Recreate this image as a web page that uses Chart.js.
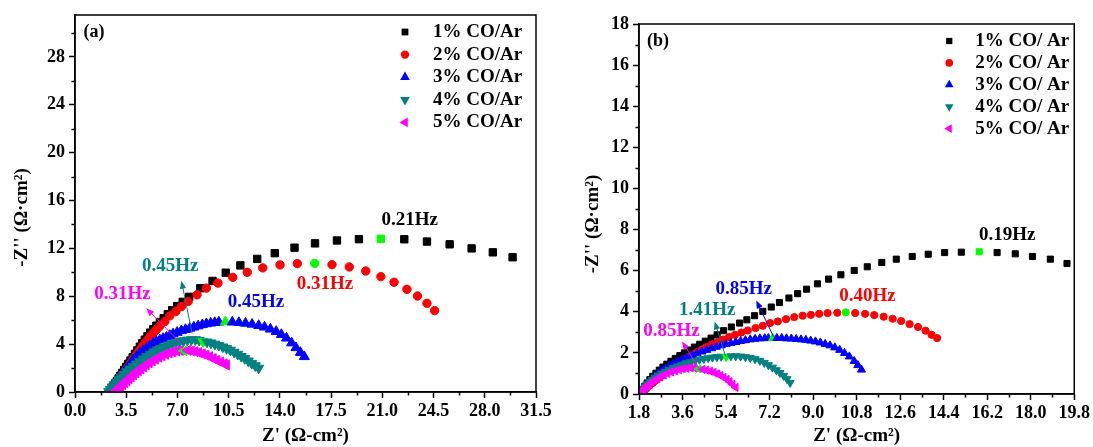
<!DOCTYPE html>
<html>
<head>
<meta charset="utf-8">
<title>Nyquist plots, CO/Ar</title>
<script src="https://cdn.jsdelivr.net/npm/chart.js@4.4.1/dist/chart.umd.min.js"></script>
<style>
  html, body { margin: 0; padding: 0; background: #fff; }
  #wrap { position: relative; width: 1093px; height: 447px; overflow: hidden; background: #fff; }
  .panel { position: absolute; top: 0; height: 447px; }
  #panelA { left: 0; width: 560px; }
  #panelB { left: 546px; width: 547px; }
</style>
</head>
<body>
<div id="wrap">
  <div class="panel" id="panelA"><canvas id="chartA"></canvas></div>
  <div class="panel" id="panelB"><canvas id="chartB"></canvas></div>
</div>
<script>
// Nyquist plots (a) and (b)

// ---- panel (a) ----
const labelsA = ['1% CO/Ar', '2% CO/Ar', '3% CO/Ar', '4% CO/Ar', '5% CO/Ar'];
const xTicksA = [0, 3.5, 7, 10.5, 14, 17.5, 21, 24.5, 28, 31.5];
const yTicksA = [0, 4, 8, 12, 16, 20, 24, 28];

const aBlackX = [2.39,2.5,2.62,2.74,2.86,2.98,3.1,3.23,3.36,3.5,3.64,3.79,3.94,4.1,4.26,4.43,4.6,4.77,4.95,5.14,5.34,5.56,5.8,6.06,6.34,6.64,6.98,7.36,7.8,8.56,9.4,10.3,11.3,12.45,13.65,15.0,16.4,17.9,19.4,20.9,22.5,24.05,25.6,27.1,28.55,29.9];
const aBlackY = [0.03,0.24,0.46,0.68,0.9,1.13,1.36,1.6,1.85,2.1,2.36,2.63,2.9,3.19,3.48,3.79,4.08,4.37,4.66,4.96,5.24,5.54,5.85,6.17,6.5,6.84,7.18,7.53,7.95,8.67,9.28,9.97,10.58,11.12,11.6,12.06,12.42,12.66,12.77,12.8,12.76,12.57,12.34,12.0,11.67,11.26];

const aRedX = [2.39,2.5,2.62,2.74,2.86,2.98,3.1,3.23,3.36,3.5,3.64,3.79,3.94,4.1,4.26,4.43,4.6,4.77,4.94,5.11,5.28,5.45,5.62,5.8,6.14,6.48,6.89,7.27,7.73,8.34,8.98,9.77,10.78,11.77,12.83,14.01,15.19,16.38,17.56,18.74,19.87,20.9,21.8,22.68,23.4,24.05,24.57];
const aRedY = [0.03,0.22,0.42,0.62,0.82,1.02,1.22,1.44,1.65,1.88,2.12,2.38,2.64,2.92,3.2,3.51,3.8,4.07,4.33,4.58,4.82,5.05,5.29,5.52,5.88,6.36,6.72,7.14,7.56,8.12,8.68,9.1,9.58,10.0,10.37,10.62,10.73,10.75,10.64,10.45,10.11,9.64,9.17,8.58,8.02,7.41,6.8];

const aBlueX = [2.32,2.42,2.53,2.65,2.78,2.92,3.06,3.2,3.35,3.5,3.64,3.8,3.98,4.2,4.43,4.66,4.89,5.11,5.34,5.57,5.8,6.02,6.25,6.48,6.7,6.98,7.27,7.55,7.84,8.12,8.41,8.7,8.98,9.27,9.55,9.83,10.28,10.75,11.2,11.65,12.1,12.55,12.95,13.35,13.75,14.1,14.45,14.8,15.1,15.4,15.67];
const aBlueY = [0.03,0.2,0.38,0.57,0.77,0.98,1.2,1.42,1.65,1.88,2.12,2.38,2.68,2.96,3.24,3.45,3.65,3.86,4.07,4.22,4.35,4.47,4.58,4.72,4.85,4.98,5.12,5.22,5.32,5.42,5.52,5.62,5.7,5.75,5.8,5.84,5.86,5.84,5.8,5.74,5.66,5.55,5.42,5.25,5.05,4.8,4.5,4.1,3.7,3.3,2.95];

const aTealX = [2.3,2.42,2.55,2.69,2.84,3.0,3.17,3.35,3.55,3.76,3.98,4.2,4.43,4.66,4.9,5.14,5.38,5.62,5.87,6.12,6.38,6.64,6.9,7.16,7.42,7.68,7.95,8.22,8.48,8.75,9.02,9.29,9.56,9.83,10.1,10.36,10.62,10.87,11.12,11.36,11.6,11.84,12.08,12.32,12.55];
const aTealY = [0.03,0.22,0.42,0.62,0.83,1.04,1.25,1.47,1.7,1.92,2.12,2.34,2.56,2.77,2.98,3.16,3.34,3.5,3.64,3.78,3.92,4.04,4.14,4.22,4.29,4.34,4.37,4.37,4.33,4.21,4.18,4.1,4.0,3.9,3.77,3.64,3.5,3.33,3.16,2.98,2.8,2.6,2.4,2.2,2.0];

const aPinkX = [2.75,2.87,3.0,3.13,3.26,3.4,3.54,3.69,3.84,4.0,4.16,4.33,4.5,4.68,4.87,5.07,5.28,5.5,5.72,5.95,6.19,6.43,6.68,6.94,7.2,7.45,7.7,7.95,8.2,8.45,8.7,8.95,9.2,9.45,9.7,9.95,10.2,10.35];
const aPinkY = [0.03,0.17,0.32,0.47,0.62,0.78,0.94,1.1,1.27,1.44,1.6,1.77,1.93,2.1,2.27,2.43,2.6,2.75,2.9,3.03,3.15,3.26,3.35,3.42,3.47,3.45,3.48,3.44,3.38,3.3,3.2,3.08,2.95,2.8,2.65,2.5,2.35,2.26];

// index of the green (marked frequency) point in each series
const peaksA = [39, 37, 36, 29, 25];

// ---- panel (b) ----
const labelsB = ['1% CO/ Ar', '2% CO/ Ar', '3% CO/ Ar', '4% CO/ Ar', '5% CO/ Ar'];
const xTicksB = [1.8, 3.6, 5.4, 7.2, 9.0, 10.8, 12.6, 14.4, 16.2, 18.0, 19.8];
const yTicksB = [0, 2, 4, 6, 8, 10, 12, 14, 16, 18];

const bBlackX = [1.87,1.95,2.04,2.14,2.25,2.37,2.5,2.64,2.79,2.95,3.12,3.3,3.49,3.68,3.88,4.09,4.31,4.54,4.78,5.03,5.3,5.62,5.96,6.26,6.58,6.92,7.27,7.61,8.0,8.36,8.73,9.18,9.64,10.15,10.7,11.24,11.84,12.44,13.1,13.76,14.44,15.13,15.87,16.61,17.36,18.07,18.81,19.5];
const bBlackY = [0.05,0.22,0.38,0.54,0.7,0.86,1.01,1.16,1.31,1.45,1.59,1.73,1.87,2.0,2.14,2.28,2.42,2.57,2.72,2.88,3.08,3.26,3.45,3.61,3.81,4.02,4.23,4.45,4.67,4.88,5.1,5.36,5.59,5.8,6.01,6.19,6.4,6.56,6.69,6.8,6.88,6.9,6.92,6.88,6.82,6.69,6.56,6.35];

const bRedX = [1.9,2.0,2.12,2.24,2.37,2.5,2.64,2.78,2.92,3.07,3.22,3.38,3.54,3.7,3.87,4.05,4.23,4.42,4.62,4.83,5.05,5.28,5.52,5.77,6.03,6.3,6.62,6.92,7.22,7.54,7.88,8.22,8.57,8.91,9.25,9.6,10.0,10.35,10.74,11.15,11.53,11.92,12.29,12.64,12.99,13.34,13.65,13.9,14.13];
const bRedY = [0.04,0.15,0.28,0.41,0.54,0.67,0.8,0.93,1.06,1.19,1.32,1.45,1.57,1.69,1.81,1.93,2.05,2.17,2.29,2.41,2.53,2.65,2.77,2.88,2.99,3.09,3.21,3.32,3.45,3.53,3.64,3.74,3.81,3.85,3.9,3.94,3.95,3.97,3.94,3.9,3.84,3.76,3.66,3.55,3.4,3.26,3.08,2.88,2.72];

const bBlueX = [1.9,1.97,2.05,2.14,2.24,2.35,2.47,2.6,2.74,2.89,3.05,3.22,3.4,3.59,3.79,4.0,4.2,4.4,4.6,4.8,5.0,5.2,5.4,5.6,5.8,6.0,6.2,6.4,6.6,6.8,7.0,7.15,7.33,7.5,7.7,7.9,8.1,8.3,8.5,8.7,8.9,9.1,9.3,9.5,9.7,9.9,10.1,10.3,10.5,10.7,10.85,11.0];
const bBlueY = [0.04,0.18,0.32,0.46,0.6,0.74,0.87,1.0,1.12,1.24,1.36,1.47,1.58,1.68,1.78,1.88,1.97,2.06,2.14,2.22,2.29,2.36,2.42,2.47,2.52,2.57,2.61,2.65,2.68,2.7,2.71,2.72,2.72,2.72,2.72,2.7,2.69,2.67,2.65,2.63,2.59,2.55,2.5,2.43,2.36,2.26,2.14,1.99,1.82,1.6,1.4,1.18];

const bTealX = [1.84,1.9,1.97,2.05,2.14,2.24,2.35,2.47,2.6,2.74,2.89,3.05,3.22,3.4,3.58,3.76,3.94,4.12,4.3,4.48,4.66,4.84,5.02,5.2,5.41,5.6,5.8,6.0,6.2,6.4,6.6,6.8,6.98,7.15,7.32,7.48,7.63,7.78,7.92,8.05];
const bTealY = [0.03,0.14,0.26,0.37,0.48,0.59,0.7,0.8,0.9,1.0,1.09,1.18,1.27,1.35,1.43,1.5,1.56,1.62,1.67,1.71,1.75,1.78,1.8,1.82,1.8,1.84,1.84,1.83,1.8,1.76,1.7,1.62,1.52,1.41,1.29,1.16,1.03,0.89,0.73,0.55];

const bPinkX = [1.88,1.93,1.99,2.06,2.14,2.23,2.33,2.44,2.56,2.69,2.83,2.98,3.13,3.29,3.45,3.61,3.77,3.94,4.1,4.27,4.43,4.59,4.74,4.89,5.03,5.17,5.3,5.43,5.55,5.67,5.8];
const bPinkY = [0.03,0.12,0.21,0.3,0.39,0.48,0.57,0.66,0.75,0.84,0.92,1.0,1.07,1.13,1.18,1.22,1.25,1.27,1.26,1.22,1.2,1.16,1.11,1.05,0.98,0.9,0.81,0.71,0.6,0.47,0.32];

const peaksB = [42, 37, 32, 24, 19];

// ---- styling ----
const SERIF = '"Liberation Serif", "Times New Roman", serif';
const colors = ['#000000', '#FF0000', '#0000FF', '#008080', '#FF00FF'];
const GREEN = '#00FF00';
const markers = [
  { style: 'rect', rotation: 0 },
  { style: 'circle', rotation: 0 },
  { style: 'triangle', rotation: 0 },
  { style: 'triangle', rotation: 180 },
  { style: 'triangle', rotation: 270 }
];

function makeDatasets(xsList, ysList, labels, peaks, radii) {
  return xsList.map((xs, i) => ({
    label: labels[i],
    data: xs.map((x, k) => ({ x: x, y: ysList[i][k] })),
    pointStyle: markers[i].style,
    pointRotation: markers[i].rotation,
    pointRadius: radii[i],
    pointBorderWidth: 1,
    pointBackgroundColor: c => c.dataIndex === peaks[i] ? GREEN : colors[i],
    pointBorderColor: c => c.dataIndex === peaks[i] ? GREEN : colors[i],
    order: xsList.length - i
  }));
}

function drawMarker(ctx, m, r, x, y) {
  ctx.beginPath();
  if (m.style === 'rect') {
    const s = r * Math.SQRT1_2;
    ctx.rect(x - s, y - s, 2 * s, 2 * s);
  } else if (m.style === 'circle') {
    ctx.arc(x, y, r, 0, Math.PI * 2);
  } else {
    let a = m.rotation * Math.PI / 180;
    ctx.moveTo(x + Math.sin(a) * r, y - Math.cos(a) * r);
    for (let k = 0; k < 2; k++) {
      a += Math.PI * 2 / 3;
      ctx.lineTo(x + Math.sin(a) * r, y - Math.cos(a) * r);
    }
  }
  ctx.closePath();
  ctx.fill();
}

function arrow(ctx, x0, y0, x1, y1, color) {
  const ang = Math.atan2(y1 - y0, x1 - x0);
  ctx.strokeStyle = color; ctx.fillStyle = color; ctx.lineWidth = 1;
  ctx.beginPath(); ctx.moveTo(x0, y0); ctx.lineTo(x1 - 5 * Math.cos(ang), y1 - 5 * Math.sin(ang)); ctx.stroke();
  ctx.beginPath();
  ctx.moveTo(x1, y1);
  ctx.lineTo(x1 - 8 * Math.cos(ang) + 3.2 * Math.sin(ang), y1 - 8 * Math.sin(ang) - 3.2 * Math.cos(ang));
  ctx.lineTo(x1 - 8 * Math.cos(ang) - 3.2 * Math.sin(ang), y1 - 8 * Math.sin(ang) + 3.2 * Math.cos(ang));
  ctx.closePath(); ctx.fill();
}

// frame, minor ticks, legend, y title, frequency notes
const deco = {
  id: 'deco',
  afterDatasetsDraw(chart, args, o) {
    const ctx = chart.ctx, sx = chart.scales.x, sy = chart.scales.y;
    ctx.save();
    o.arrows.forEach(a => arrow(ctx, sx.getPixelForValue(a.from[0]), sy.getPixelForValue(a.from[1]),
      sx.getPixelForValue(a.to[0]), sy.getPixelForValue(a.to[1]), colors[a.series]));
    ctx.font = 'bold 19px ' + SERIF;
    ctx.textAlign = 'center'; ctx.textBaseline = 'middle';
    o.notes.forEach(n => {
      ctx.fillStyle = colors[n.series];
      ctx.fillText(n.text, sx.getPixelForValue(n.at[0]), sy.getPixelForValue(n.at[1]));
    });
    ctx.restore();
  },
  afterDraw(chart, args, o) {
    const ctx = chart.ctx, a = chart.chartArea, sx = chart.scales.x, sy = chart.scales.y;
    ctx.save();
    ctx.strokeStyle = '#000'; ctx.lineWidth = 1.5;
    ctx.strokeRect(a.left, a.top, a.right - a.left, a.bottom - a.top);
    // minor ticks halfway between labelled ticks
    ctx.beginPath();
    const xt = o.xTicks, yt = o.yTicks;
    for (let v = xt[0] + (xt[1] - xt[0]) / 2; v < sx.max; v += xt[1] - xt[0]) {
      const p = Math.round(sx.getPixelForValue(v)) + 0.5;
      ctx.moveTo(p, a.bottom); ctx.lineTo(p, a.bottom + 3.5);
    }
    for (let v = yt[0] + (yt[1] - yt[0]) / 2; v < sy.max; v += yt[1] - yt[0]) {
      const p = Math.round(sy.getPixelForValue(v)) + 0.5;
      ctx.moveTo(a.left, p); ctx.lineTo(a.left - 3.5, p);
    }
    ctx.stroke();
    // legend
    ctx.font = 'bold 19px ' + SERIF;
    ctx.textAlign = 'left'; ctx.textBaseline = 'middle';
    chart.data.datasets.forEach((ds, i) => {
      const y = a.top + o.legend.top + i * o.legend.dy;
      ctx.fillStyle = colors[i];
      drawMarker(ctx, markers[i], o.legend.r[i], a.right - o.legend.marker, y);
      ctx.fillStyle = '#000';
      ctx.fillText(ds.label, a.right - o.legend.text, y);
    });
    // y axis title
    ctx.save();
    ctx.translate(a.left - o.yTitle.dx, (a.top + a.bottom) / 2 + o.yTitle.dy);
    ctx.rotate(-Math.PI / 2);
    ctx.textAlign = 'center';
    ctx.font = 'bold 19px ' + SERIF;
    ctx.fillText("-Z'' (Ω·cm²)", 0, 0);
    ctx.restore();
    // panel tag
    ctx.font = 'bold 18px ' + SERIF;
    ctx.textAlign = 'center';
    ctx.fillText(o.tag, a.left + 19, a.top + 17);
    ctx.restore();
  }
};

Chart.defaults.font.family = SERIF;
Chart.defaults.font.weight = 'bold';
Chart.defaults.color = '#000';

function axis(min, max, ticksArr, fmt, opts) {
  return {
    type: 'linear', min: min, max: max, bounds: 'data',
    afterBuildTicks: s => { s.ticks = ticksArr.map(v => ({ value: v })); },
    afterFit: opts.fit,
    ticks: { autoSkip: false, maxRotation: 0, padding: opts.pad, color: '#000',
             font: { size: 18, weight: 'bold', family: SERIF }, callback: fmt },
    grid: { drawOnChartArea: false, drawTicks: true, tickLength: 6, tickColor: '#000', tickWidth: 1.5 },
    border: { display: true, color: '#000', width: 1.5 },
    title: { display: opts.title !== '', text: opts.title, color: '#000',
             font: { size: 19, weight: 'bold', family: SERIF }, padding: { top: 0, bottom: 0 } }
  };
}

function makeChart(id, datasets, cfg) {
  return new Chart(document.getElementById(id), {
    type: 'scatter',
    data: { datasets: datasets },
    options: {
      responsive: true, maintainAspectRatio: false, animation: false, events: [],
      devicePixelRatio: 1,
      layout: { padding: cfg.padding },
      plugins: { legend: { display: false }, tooltip: { enabled: false }, deco: cfg.deco },
      scales: {
        x: axis(cfg.xMin, cfg.xMax, cfg.xTicks, v => v.toFixed(1),
          { fit: s => { s.height = cfg.xHeight; }, pad: 3, title: "Z' (Ω-cm²)" }),
        y: axis(cfg.yMin, cfg.yMax, cfg.yTicks, v => String(v),
          { fit: s => { s.width = cfg.yWidth; }, pad: 4, title: '' })
      }
    },
    plugins: [deco]
  });
}

makeChart('chartA',
  makeDatasets([aBlackX, aRedX, aBlueX, aTealX, aPinkX], [aBlackY, aRedY, aBlueY, aTealY, aPinkY], labelsA, peaksA, [5.2, 4.2, 5.8, 5.8, 5.8]),
  {
    xMin: 0, xMax: 31.5, yMin: 0, yMax: 31.5, xTicks: xTicksA, yTicks: yTicksA,
    padding: { left: 0, right: 24, top: 15, bottom: 0 }, xHeight: 55, yWidth: 75,
    deco: {
      tag: '(a)', xTicks: xTicksA, yTicks: yTicksA,
      yTitle: { dx: 53, dy: 14 },
      legend: { top: 17, dy: 22.6, marker: 131, text: 103, r: [4.8, 4.2, 5.6, 5.6, 5.6] },
      notes: [
        { text: '0.21Hz', series: 0, at: [22.87, 14.38] },
        { text: '0.31Hz', series: 1, at: [17.08, 9.03] },
        { text: '0.45Hz', series: 2, at: [12.36, 7.55] },
        { text: '0.45Hz', series: 3, at: [6.5, 10.5] },
        { text: '0.31Hz', series: 4, at: [3.25, 8.2] }
      ],
      arrows: [
        { series: 3, from: [8.0, 4.9], to: [7.27, 9.3] },
        { series: 4, from: [7.2, 4.1], to: [4.87, 7.0] }
      ]
    }
  });

makeChart('chartB',
  makeDatasets([bBlackX, bRedX, bBlueX, bTealX, bPinkX], [bBlackY, bRedY, bBlueY, bTealY, bPinkY], labelsB, peaksB, [4.3, 3.6, 4.7, 4.7, 4.7]),
  {
    xMin: 1.8, xMax: 19.8, yMin: 0, yMax: 18, xTicks: xTicksB, yTicks: yTicksB,
    padding: { left: 0, right: 17, top: 24, bottom: 0 }, xHeight: 53, yWidth: 93,
    deco: {
      tag: '(b)', xTicks: xTicksB, yTicks: yTicksB,
      yTitle: { dx: 46, dy: 15 },
      legend: { top: 17, dy: 21.9, marker: 125, text: 99, r: [4.4, 3.8, 5, 5, 5] },
      notes: [
        { text: '0.19Hz', series: 0, at: [17.03, 7.72] },
        { text: '0.40Hz', series: 1, at: [11.25, 4.75] },
        { text: '0.85Hz', series: 2, at: [6.13, 5.09] },
        { text: '1.41Hz', series: 3, at: [4.62, 4.1] },
        { text: '0.85Hz', series: 4, at: [3.14, 3.08] }
      ],
      arrows: [
        { series: 2, from: [7.36, 2.8], to: [6.65, 4.55] },
        { series: 3, from: [5.38, 1.83], to: [4.93, 3.53] },
        { series: 4, from: [4.27, 1.26], to: [3.58, 2.56] }
      ]
    }
  });
</script>
</body>
</html>
